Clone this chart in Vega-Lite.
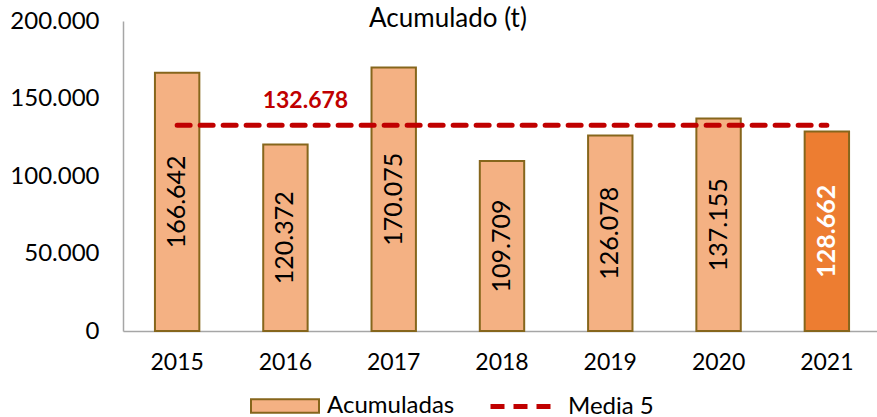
{
  "$schema": "https://vega.github.io/schema/vega-lite/v6.json",
  "autosize": "none",
  "width": 758,
  "height": 310,
  "padding": {"left": 123, "top": 21, "right": 0, "bottom": 86},
  "background": "white",
  "config": {
    "view": {"stroke": null},
    "font": "Lato",
    "locale": {"number": {"decimal": ",", "thousands": ".", "grouping": [3], "currency": ["", " €"]}}
  },
  "title": {
    "text": "Acumulado (t)",
    "fontSize": 26,
    "fontWeight": "normal",
    "font": "Lato",
    "color": "#000000",
    "anchor": "middle",
    "dx": -54,
    "offset": -23
  },
  "datasets": {
    "acum": [
      {"year": "2015", "valor": 166642, "serie": "Acumuladas"},
      {"year": "2016", "valor": 120372, "serie": "Acumuladas"},
      {"year": "2017", "valor": 170075, "serie": "Acumuladas"},
      {"year": "2018", "valor": 109709, "serie": "Acumuladas"},
      {"year": "2019", "valor": 126078, "serie": "Acumuladas"},
      {"year": "2020", "valor": 137155, "serie": "Acumuladas"},
      {"year": "2021", "valor": 128662, "serie": "Acumuladas"}
    ],
    "media": [
      {"year": "2015", "media": 132678, "serie": "Media 5"},
      {"year": "2016", "media": 132678, "serie": "Media 5"},
      {"year": "2017", "media": 132678, "serie": "Media 5"},
      {"year": "2018", "media": 132678, "serie": "Media 5"},
      {"year": "2019", "media": 132678, "serie": "Media 5"},
      {"year": "2020", "media": 132678, "serie": "Media 5"},
      {"year": "2021", "media": 132678, "serie": "Media 5"}
    ],
    "etiqueta": [
      {"year": "2016", "media": 132678}
    ]
  },
  "layer": [
    {
      "data": {"name": "acum"},
      "mark": {"type": "bar", "stroke": "#86661C", "strokeWidth": 2},
      "encoding": {
        "x": {
          "field": "year", "type": "ordinal",
          "scale": {"paddingInner": 0.59, "paddingOuter": 0.295},
          "axis": {
            "title": null, "ticks": false, "domainColor": "#A6A6A6", "domainWidth": 1.5,
            "labelFontSize": 23, "labelColor": "#000000", "labelPadding": 20, "labelAngle": 0
          }
        },
        "y": {
          "field": "valor", "type": "quantitative",
          "scale": {"domain": [0, 200000]},
          "axis": {
            "title": null, "ticks": false, "grid": false, "values": [0, 50000, 100000, 150000, 200000],
            "labelOverlap": false, "labelFlush": false,
            "format": ",.0f", "domainColor": "#A6A6A6", "domainWidth": 1.5,
            "labelFontSize": 24, "labelColor": "#000000", "labelPadding": 24
          }
        },
        "fill": {
          "condition": {"test": "datum.year === '2021'", "value": "#ED7D31"},
          "field": "serie", "type": "nominal",
          "scale": {"domain": ["Acumuladas"], "range": ["#F4B183"]},
          "legend": {
            "title": null,
            "orient": "none",
            "direction": "horizontal",
            "legendX": 127,
            "legendY": 350,
            "symbolType": "M-1,-0.2H1V0.2H-1Z",
            "symbolSize": 4624,
            "symbolFillColor": "#F4B183",
            "symbolStrokeColor": "#86661C",
            "symbolStrokeWidth": 2,
            "symbolOpacity": 1,
            "labelFontSize": 24,
            "labelColor": "#000000",
            "labelOffset": 7
          }
        }
      }
    },
    {
      "data": {"name": "acum"},
      "transform": [{"filter": "datum.year !== '2021'"}, {"calculate": "datum.valor / 2", "as": "mitad"}],
      "mark": {"type": "text", "angle": 270, "baseline": "middle", "align": "center", "fontSize": 25, "color": "#000000"},
      "encoding": {
        "x": {"field": "year", "type": "ordinal"},
        "y": {"field": "mitad", "type": "quantitative"},
        "text": {"field": "valor", "type": "quantitative", "format": ",.0f"}
      }
    },
    {
      "data": {"name": "acum"},
      "transform": [{"filter": "datum.year === '2021'"}, {"calculate": "datum.valor / 2", "as": "mitad"}],
      "mark": {"type": "text", "angle": 270, "baseline": "middle", "align": "center", "fontSize": 25, "fontWeight": "bold", "color": "#FFFFFF"},
      "encoding": {
        "x": {"field": "year", "type": "ordinal"},
        "y": {"field": "mitad", "type": "quantitative"},
        "text": {"field": "valor", "type": "quantitative", "format": ",.0f"}
      }
    },
    {
      "data": {"name": "media"},
      "mark": {"type": "line", "strokeWidth": 5, "strokeDash": [13, 10], "strokeCap": "round"},
      "encoding": {
        "x": {"field": "year", "type": "ordinal"},
        "y": {"field": "media", "type": "quantitative"},
        "stroke": {
          "field": "serie", "type": "nominal",
          "scale": {"domain": ["Media 5"], "range": ["#C00000"]},
          "legend": {
            "title": null,
            "orient": "none",
            "direction": "horizontal",
            "legendX": 365,
            "legendY": 350,
            "symbolType": "stroke",
            "symbolSize": 4356,
            "symbolStrokeWidth": 5,
            "symbolDash": [14, 9],
            "symbolStrokeColor": "#C00000",
            "symbolOpacity": 1,
            "labelFontSize": 24,
            "labelColor": "#000000",
            "labelOffset": 9
          }
        }
      }
    },
    {
      "data": {"name": "etiqueta"},
      "mark": {"type": "text", "fontSize": 23, "fontWeight": "bold", "color": "#C00000", "dx": 20, "dy": -24, "baseline": "middle"},
      "encoding": {
        "x": {"field": "year", "type": "ordinal"},
        "y": {"field": "media", "type": "quantitative"},
        "text": {"field": "media", "type": "quantitative", "format": ",.0f"}
      }
    }
  ]
}
